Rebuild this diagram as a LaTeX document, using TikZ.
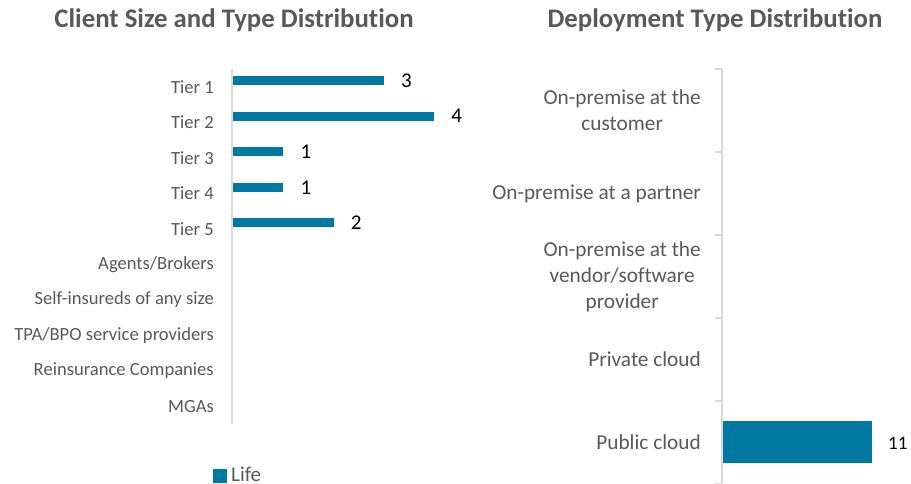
\documentclass[tikz,border=0pt]{standalone}
\usepackage{fontspec}
\setmainfont{Carlito}[Ligatures=NoCommon]
\usepackage{tikz}
\usetikzlibrary{positioning}

\definecolor{barblue}{HTML}{0078A0}
\definecolor{txtgray}{HTML}{595959}
\definecolor{axisgray}{HTML}{D9D9D9}

\tikzset{
  charttitle/.style={font=\fontsize{26.8}{30}\selectfont\bfseries, text=txtgray, inner sep=0pt},
  catlabel/.style={font=\fontsize{18.6}{22}\selectfont, text=txtgray, anchor=east, inner sep=0pt},
  deplabel/.style={font=\fontsize{21.3}{26}\selectfont, text=txtgray, anchor=east, align=center, inner sep=0pt},
  vallabel/.style={font=\fontsize{21}{24}\selectfont, text=black, anchor=west, inner sep=0pt},
  bar/.style={fill=barblue, draw=none},
  axisline/.style={draw=axisgray, line width=2pt}
}

\begin{document}
\begin{tikzpicture}[x=1pt,y=-1pt]
        \useasboundingbox (0,0) rectangle (911,484);
        % left chart
        \node[charttitle] (lefttitle) at (234,20) {Client Size and Type Distribution};
        \draw[axisline] (232,69) -- (232,424);
        \foreach \name/\val [count=\i] in {Tier 1/3,Tier 2/4,Tier 3/1,Tier 4/1,Tier 5/2}{
          \fill[bar] (233,{69+35.5*(\i-0.5)-10.5}) rectangle ({233+50.3*\val},{69+35.5*(\i-0.5)-1.5});
          \node[vallabel] (val\i) at ({233+50.3*\val+17},{69+35.5*(\i-0.5)-6}) {\val};
        }
        \foreach \name [count=\i] in {Tier 1,Tier 2,Tier 3,Tier 4,Tier 5,Agents/Brokers,Self-insureds of any size,TPA/BPO service providers,Reinsurance Companies,MGAs}{
          \node[catlabel] (cat\i) at (214,{69+35.5*(\i-0.5)}) {\name};
        }
        \fill[bar] (213,469) rectangle (227,483);
        \node[font=\fontsize{21}{24}\selectfont, text=txtgray, anchor=west, inner sep=0pt] (legend) at (231,474.5) {Life};
        % right chart
        \node[charttitle] (righttitle) at (715,20) {Deployment Type Distribution};
        \draw[axisline] (722,69) -- (722,483);
        \foreach \k in {0,...,5}{
          \draw[axisline] (715,{69+83*\k}) -- (722,{69+83*\k});
        }
        \foreach \name [count=\i] in {On-premise at the\\customer,On-premise at a partner,On-premise at the\\vendor/software\\provider,Private cloud,Public cloud}{
          \node[deplabel] (dep\i) at (701,{69+83*(\i-0.5)}) {\name};
        }
        \fill[bar] (723,421) rectangle (872,463);
        \node[vallabel, font=\fontsize{19}{22}\selectfont] (val11) at (888,443) {11};
\end{tikzpicture}
\end{document}
